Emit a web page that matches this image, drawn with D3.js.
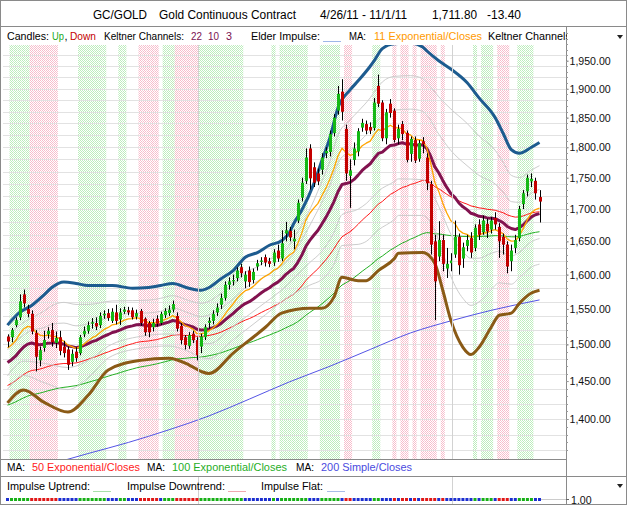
<!DOCTYPE html>
<html><head><meta charset="utf-8">
<script src="https://cdn.jsdelivr.net/npm/d3@7"></script>
<style>
body{margin:0;background:#fff;}
svg{display:block;font-family:"Liberation Sans",Arial,Helvetica,sans-serif;}
</style></head><body>
<svg id="c" width="627" height="505"></svg>
<script>
// ---- data ----
const dates = ["4/26","4/27","4/28","4/29",
"5/2","5/3","5/4","5/5","5/6","5/9","5/10","5/11","5/12","5/13","5/16","5/17","5/18","5/19","5/20","5/23","5/24","5/25","5/26","5/27","5/31",
"6/1","6/2","6/3","6/6","6/7","6/8","6/9","6/10","6/13","6/14","6/15","6/16","6/17","6/20","6/21","6/22","6/23","6/24","6/27","6/28","6/29","6/30",
"7/1","7/5","7/6","7/7","7/8","7/11","7/12","7/13","7/14","7/15","7/18","7/19","7/20","7/21","7/22","7/25","7/26","7/27","7/28","7/29",
"8/1","8/2","8/3","8/4","8/5","8/8","8/9","8/10","8/11","8/12","8/15","8/16","8/17","8/18","8/19","8/22","8/23","8/24","8/25","8/26","8/29","8/30","8/31",
"9/1","9/2","9/6","9/7","9/8","9/9","9/12","9/13","9/14","9/15","9/16","9/19","9/20","9/21","9/22","9/23","9/26","9/27","9/28","9/29","9/30",
"10/3","10/4","10/5","10/6","10/7","10/10","10/11","10/12","10/13","10/14","10/17","10/18","10/19","10/20","10/21","10/24","10/25","10/26","10/27","10/28","10/31",
"11/1"];
const open = [1511,1510,1527,1538,1571,1550,1543,1516,1478,1495,1514,1520,1502,1510,1497,1493,1476,1490,1488,1514,1519,1529,1530,1527,1541,
1544,1533,1545,1535,1546,1548,1548,1539,1547,1536,1530,1524,1536,1530,1541,1544,1549,1540,1526,1510,1498,1515,
1506,1497,1510,1530,1533,1545,1556,1566,1585,1590,1595,1611,1590,1606,1592,1612,1619,1626,1620,1618,
1636,1624,1662,1666,1650,1682,1718,1745,1798,1767,1757,1763,1790,1792,1824,1862,1895,1831,1753,1779,1793,1833,1839,
1834,1832,1905,1876,1815,1874,1862,1815,1839,1824,1789,1812,1781,1810,1783,1740,1650,1627,1652,1609,1617,
1630,1657,1624,1643,1655,1640,1676,1664,1677,1668,1686,1672,1657,1645,1620,1640,1655,1708,1728,1744,1745,
1719];
const high = [1514,1523,1538,1571,1578,1556,1548,1520,1497,1519,1524,1530,1518,1519,1505,1497,1493,1496,1513,1525,1532,1537,1538,1545,1548,
1550,1551,1556,1551,1553,1553,1552,1549,1550,1538,1533,1536,1541,1546,1551,1555,1562,1545,1530,1513,1517,1519,
1510,1515,1528,1538,1548,1558,1572,1590,1596,1600,1611,1616,1605,1612,1609,1622,1626,1630,1625,1638,
1645,1667,1680,1672,1668,1715,1750,1798,1805,1775,1765,1790,1800,1828,1856,1905,1917,1838,1780,1808,1832,1848,1845,
1842,1884,1925,1880,1865,1882,1866,1838,1844,1828,1818,1818,1812,1817,1790,1745,1660,1681,1660,1640,1632,
1682,1662,1648,1660,1664,1676,1684,1690,1685,1688,1695,1678,1662,1650,1645,1660,1705,1730,1755,1757,1750,
1730];
const low = [1496,1503,1524,1534,1552,1538,1514,1463,1470,1490,1508,1497,1495,1485,1482,1465,1470,1476,1485,1510,1515,1522,1520,1523,1536,
1533,1530,1528,1527,1543,1541,1535,1535,1526,1512,1510,1518,1525,1527,1537,1540,1545,1518,1500,1493,1494,1502,
1478,1488,1506,1522,1528,1540,1550,1562,1578,1584,1590,1596,1580,1582,1587,1606,1614,1612,1611,1613,
1619,1620,1650,1650,1638,1678,1712,1740,1731,1735,1738,1755,1782,1785,1818,1855,1845,1745,1702,1770,1785,1826,1822,
1822,1828,1868,1810,1805,1850,1808,1805,1812,1775,1776,1774,1776,1790,1730,1630,1534,1620,1605,1595,1605,
1625,1600,1610,1635,1625,1635,1652,1660,1655,1662,1668,1625,1630,1602,1605,1632,1650,1700,1720,1735,1715,
1679];
const close = [1504,1520,1534,1561,1558,1543,1518,1483,1492,1506,1519,1503,1509,1491,1488,1472,1487,1481,1510,1519,1527,1531,1525,1540,1543,
1537,1546,1533,1545,1549,1545,1538,1544,1530,1517,1517,1530,1529,1543,1547,1549,1557,1522,1506,1499,1513,1506,
1485,1511,1524,1533,1543,1552,1566,1585,1590,1592,1606,1602,1600,1589,1604,1617,1621,1618,1616,1633,
1624,1647,1667,1656,1654,1710,1742,1783,1749,1742,1744,1783,1794,1822,1850,1891,1860,1757,1762,1798,1827,1841,1828,
1828,1876,1874,1815,1859,1858,1812,1831,1822,1779,1814,1778,1807,1805,1741,1645,1590,1652,1616,1616,1621,
1657,1614,1641,1652,1633,1671,1660,1682,1665,1682,1676,1650,1645,1612,1636,1652,1700,1725,1750,1748,1725,
1711.8];
// Elder impulse per day, read from the background stripes / dot row: 1 up, -1 down, 0 flat
const impulse = [0,1,1,1,1,1,-1,-1,-1,-1,-1,-1,-1,0,0,0,0,0,1,1,1,1,1,1,1,0,0,0,1,1,0,0,0,-1,-1,-1,-1,-1,0,1,1,1,
-1,-1,-1,-1,-1,-1,1,1,1,1,1,1,1,1,1,1,1,0,0,0,0,0,0,0,1,0,1,1,1,1,1,1,1,0,0,0,1,1,1,1,1,0,-1,-1,0,0,0,0,0,1,1,
0,0,0,-1,0,-1,-1,0,-1,0,-1,-1,-1,-1,0,-1,0,0,0,0,0,0,0,1,0,1,1,1,0,-1,-1,-1,0,0,1,1,1,1,0,0];
const ema11Start = 1495, ema22Start = 1475, ema50Start = 1444, ema100Start = 1418;
// Keltner outer bands read at sample days (day index, price)
const upperIdx = [0,3,6,9,11,14,17,20,26,31,35,38,41,45,48,50,53,56,59,62,65,68,70,71,73,76,78,80,82,85,87,90,91,93,96,100,103,104,107,110,114,117,121,123,125,127,130,132];
const upperVal = [1527,1545,1555,1570,1581,1589,1587,1584,1584,1580,1581,1584,1587,1580,1577,1581,1594,1606,1626,1633,1644,1651,1664,1677,1698,1740,1778,1816,1867,1898,1914,1940,1950,1972,1981,1982,1975,1968,1950,1935,1911,1884,1850,1823,1796,1790,1800,1808];
const lowerIdx = [0,4,9,15,20,25,33,40,45,48,50,56,64,68,75,78,81,83,87,89,92,96,97,103,106,108,110,113,115,117,120,122,125,127,130,132];
const lowerVal = [1421,1438,1422,1409,1431,1465,1478,1481,1472,1463,1460,1488,1524,1544,1551,1551,1567,1596,1591,1591,1606,1624,1632,1633,1617,1577,1534,1496,1486,1496,1524,1541,1544,1558,1573,1577];
// 200-day simple MA read at sample days
const sma200Idx = [0,10,20,30,40,50,60,70,80,90,100,110,120,132];
const sma200Val = [1330,1342,1356,1370,1386,1404,1426,1449,1470,1493,1516,1533,1548,1563];
const yTicks = [1400,1450,1500,1550,1600,1650,1700,1750,1800,1850,1900,1950];
const gridStep = 20;
const quarterLines = ["7/1","9/30"];

// ---- helpers ----
function ema(arr, n, seed){ const k = 2/(n+1); let e = seed; return arr.map((v,i)=>{ if(i>0) e = e + k*(v-e); return e; }); }
const N = close.length;
const ema11 = ema(close, 11, ema11Start);
const ema22 = ema(close, 22, ema22Start);
const ema50 = ema(close, 50, ema50Start);
const ema100 = ema(close, 100, ema100Start);

// ---- layout ----
const svg = d3.select('#c');
const W=627,H=505, pL=3, pR=566, pT=27, pB=459;
const x = d3.scaleLinear().domain([0, N-1]).range([7.5, 539.5]);
const y = d3.scaleLog().domain([1400,1950]).range([419, 60.7]);
const step = x(1)-x(0);

const defs = svg.append('defs');
function pat(id,col){ const p=defs.append('pattern').attr('id',id).attr('width',2).attr('height',2).attr('patternUnits','userSpaceOnUse');
  p.append('rect').attr('width',1).attr('height',1).attr('fill',col);
  p.append('rect').attr('x',1).attr('y',1).attr('width',1).attr('height',1).attr('fill',col); }
pat('pg','#bcedbc'); pat('pr','#f7bccb');
defs.append('clipPath').attr('id','clip').append('rect').attr('x',pL).attr('y',pT).attr('width',pR-pL).attr('height',pB-pT);

svg.append('rect').attr('width',W).attr('height',H).attr('fill','#fff');
const plot = svg.append('g').attr('clip-path','url(#clip)');
// impulse stripes
plot.selectAll('rect.st').data(impulse.map((v,i)=>({v,i})).filter(d=>d.v!==0)).join('rect')
  .attr('x',d=>x(d.i)-step/2).attr('width',step).attr('y',pT).attr('height',pB-pT)
  .attr('fill',d=>d.v>0?'url(#pg)':'url(#pr)');
// grid
const gridVals = d3.range(1340, 2020, gridStep);
plot.selectAll('line.gh').data(gridVals).join('line').attr('x1',pL).attr('x2',pR)
  .attr('y1',d=>Math.round(y(d))+0.5).attr('y2',d=>Math.round(y(d))+0.5).attr('stroke','#e2e2e2');
const qIdx = quarterLines.map(m=>dates.indexOf(m));
svg.selectAll('line.gv').data(qIdx).join('line').attr('x1',d=>Math.round(x(d)+1)+0.5).attr('x2',d=>Math.round(x(d)+1)+0.5)
  .attr('y1',pT).attr('y2',H-1).attr('stroke','#d2d2d2');

const line = d3.line().x((d,i)=>x(i)).y(d=>y(d));
const curve = d3.line().x(d=>x(d[0])).y(d=>y(d[1])).curve(d3.curveMonotoneX);
function draw(vals,col,w){ plot.append('path').attr('d',line(vals)).attr('fill','none').attr('stroke',col).attr('stroke-width',w).attr('stroke-linejoin','round'); }
function drawPts(pts,col,w){ plot.append('path').attr('d',curve(pts)).attr('fill','none').attr('stroke',col).attr('stroke-width',w).attr('stroke-linejoin','round'); }
// MAs
drawPts(sma200Idx.map((d,k)=>[d,sma200Val[k]]),'#5454e6',1);
draw(ema100,'#22b022',1);
draw(ema50,'#ff1a1a',1);
// keltner: outer bands as read, inner bands at 1/3 and 2/3 of the distance from the centre
const up = upperIdx.map((d,k)=>[d,upperVal[k]]);
const lo = lowerIdx.map((d,k)=>[d,lowerVal[k]]);
[1,2].forEach(k=>{
  drawPts(up.map(([i,v])=>[i, ema22[i]+(v-ema22[i])*k/3]),'#cdcdcd',1);
  drawPts(lo.map(([i,v])=>[i, ema22[i]-(ema22[i]-v)*k/3]),'#cdcdcd',1);
});
drawPts(up,'#1d5b8f',3);
drawPts(lo,'#8a5a16',3);
draw(ema22,'#82124f',3);
draw(ema11,'#ffa500',1.3);
// candles
const cd = close.map((c,i)=>({i,o:open[i],h:high[i],l:low[i],c}));
plot.selectAll('line.wk').data(cd).join('line').attr('x1',d=>Math.round(x(d.i))+0.5).attr('x2',d=>Math.round(x(d.i))+0.5)
  .attr('y1',d=>y(d.h)).attr('y2',d=>y(d.l)).attr('stroke','#000').attr('stroke-width',1);
plot.selectAll('rect.bd').data(cd).join('rect').attr('x',d=>Math.round(x(d.i))-1).attr('width',3)
  .attr('y',d=>y(Math.max(d.o,d.c))).attr('height',d=>Math.max(1,Math.abs(y(d.o)-y(d.c))))
  .attr('fill',d=>d.c>=d.o?'#14b814':'#c40000');

// frames
svg.append('rect').attr('x',0.5).attr('y',0.5).attr('width',W-1).attr('height',H-1).attr('fill','none').attr('stroke','#8a8a8a');
svg.append('line').attr('x1',0).attr('x2',W).attr('y1',26.5).attr('y2',26.5).attr('stroke','#8a8a8a');
svg.append('line').attr('x1',pR+0.5).attr('x2',pR+0.5).attr('y1',27).attr('y2',H).attr('stroke','#8a8a8a');
svg.append('line').attr('x1',0).attr('x2',pR).attr('y1',pB+0.5).attr('y2',pB+0.5).attr('stroke','#8a8a8a');
svg.append('line').attr('x1',0).attr('x2',W).attr('y1',476.5).attr('y2',476.5).attr('stroke','#8a8a8a');

// helper for text pieces placed at read positions
function piece(g, t, x0, yb, size, col, len){
  const el = g.append('text').attr('x',x0).attr('y',yb).attr('font-size',size).attr('fill',col).style('white-space','pre').text(t);
  if(len) el.attr('textLength',len).attr('lengthAdjust','spacingAndGlyphs');
  return el;
}
// title
const tg = svg.append('g');
piece(tg,'GC/GOLD',93,18.5,12.5,'#000',54);
piece(tg,'Gold Continuous Contract',159,18.5,12.5,'#000',137);
piece(tg,'4/26/11 - 11/1/11',320,18.5,12.5,'#000',87);
piece(tg,'1,711.80',432,18.5,12.5,'#000',45);
piece(tg,'-13.40',487,18.5,12.5,'#000',34);

// top legend
svg.append('rect').attr('x',1).attr('y',27).attr('width',pR-1).attr('height',18).attr('fill','#fff');
const lg = svg.append('g');
[['Candles:',7,'#000',42],['Up',52,'#1aa81a',12],[',',64.5,'#000',0],['Down',70,'#c40000',26],['Keltner Channels:',104,'#000',80],
 ['22',191,'#7a1050',11],['10',208,'#7a1050',11],['3',226,'#7a1050',6],['Elder Impulse:',251,'#000',69],['MA:',349,'#000',17],
 ['11 Exponential/Closes',374,'#ff9a00',108],['Keltner Channels',488,'#000',0]].forEach(([t,x0,c,len])=>piece(lg,t,x0,40,10.8,c,len||null));
svg.append('line').attr('x1',323).attr('x2',341).attr('y1',41.5).attr('y2',41.5).attr('stroke','#9fb8e8');
svg.append('rect').attr('x',pR+1).attr('y',27).attr('width',W-pR-2).attr('height',19).attr('fill','#fff');
svg.append('path').attr('d','M617,35 L623,35 L620,39 Z').attr('fill','#222');

// right axis
const ax = svg.append('g').attr('transform',`translate(${pR+0.5},0)`).call(d3.axisRight(y).tickValues(yTicks).tickFormat(d3.format(',.2f')).tickSize(2).tickPadding(1));
ax.select('.domain').remove();
ax.selectAll('text').attr('font-size',10.6).attr('font-family','"Liberation Sans",Arial,sans-serif').attr('fill','#111');
ax.selectAll('line').attr('stroke','#666');
svg.selectAll('line.mt').data(d3.range(1360,2010,10)).join('line').attr('x1',pR).attr('x2',pR+2)
  .attr('y1',d=>Math.round(y(d))+0.5).attr('y2',d=>Math.round(y(d))+0.5).attr('stroke','#999');

// bottom MA legend
svg.append('rect').attr('x',1).attr('y',pB+1).attr('width',pR-1).attr('height',476-pB-1).attr('fill','#fff');
const ml = svg.append('g');
[['MA:',7,'#000',18],['50 Exponential/Closes',32,'#ff1a1a',108],['MA:',147,'#000',18],['100 Exponential/Closes',172,'#1fae1f',115],
 ['MA:',296,'#000',18],['200 Simple/Closes',321,'#4a4ae0',91]].forEach(([t,x0,c,len])=>piece(ml,t,x0,471,10.8,c,len));

// impulse panel
const il = svg.append('g');
[['Impulse Uptrend:',7,83,93,'#a8e0a8'],['Impulse Downtrend:',127,98,228,'#f0a8b0'],['Impulse Flat:',261,62,327,'#a8bce8']].forEach(([t,tx,len,lx,c])=>{
  piece(il,t,tx,490,10.8,'#000',len);
  il.append('line').attr('x1',lx).attr('x2',lx+18).attr('y1',491.5).attr('y2',491.5).attr('stroke',c);
});
svg.append('path').attr('d','M617,484 L623,484 L620,488 Z').attr('fill','#222');
svg.append('line').attr('x1',x(N-1)).attr('x2',pR).attr('y1',499.5).attr('y2',499.5).attr('stroke','#ccc');
svg.selectAll('rect.dot').data(impulse.map((v,i)=>({v,i}))).join('rect').attr('x',d=>x(d.i)-1.5).attr('y',498).attr('width',3).attr('height',3)
  .attr('fill',d=>d.v>0?'#17b017':(d.v<0?'#e01818':'#1c2fd0'));
svg.append('line').attr('x1',pR).attr('x2',pR+3).attr('y1',499.5).attr('y2',499.5).attr('stroke','#666');
svg.append('text').attr('x',pR+5).attr('y',504).attr('font-size',10.6).attr('fill','#111').text('1.00');
</script>
</body></html>
